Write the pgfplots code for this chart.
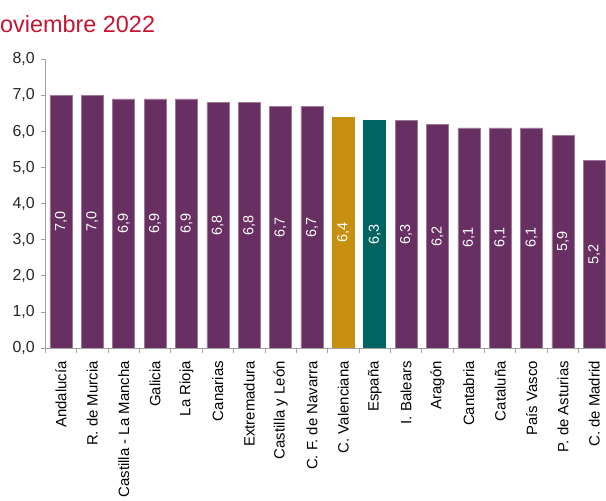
\documentclass[border=0pt]{standalone}
\usepackage{pgfplots}
\pgfplotsset{compat=1.18}
\usepackage{pgfplotstable}
\usepackage{fontspec}
\setmainfont{Liberation Sans}
\definecolor{purp}{RGB}{104,48,98}
\definecolor{goldc}{RGB}{200,144,16}
\definecolor{tealc}{RGB}{0,100,98}
\definecolor{titlered}{RGB}{200,20,50}
\definecolor{axgray}{RGB}{160,160,160}

\pgfplotstableread{
x v
0 7.0
1 7.0
2 6.9
3 6.9
4 6.9
5 6.8
6 6.8
7 6.7
8 6.7
9 6.4
10 6.3
11 6.3
12 6.2
13 6.1
14 6.1
15 6.1
16 5.9
17 5.2
}\alltab

\pgfplotstableread{
x v
0 7.0
1 7.0
2 6.9
3 6.9
4 6.9
5 6.8
6 6.8
7 6.7
8 6.7
11 6.3
12 6.2
13 6.1
14 6.1
15 6.1
16 5.9
17 5.2
}\purptab

\pgfplotstableread{
x v
9 6.4
}\goldtab

\pgfplotstableread{
x v
10 6.3
}\tealtab

\begin{document}
\begin{tikzpicture}[x=1bp,y=1bp]
\useasboundingbox (0,0) rectangle (606,501);
\clip (0,0) rectangle (606,501);
\node[anchor=base west, text=titlered, font=\fontsize{23.5}{27}\selectfont, inner sep=0pt] at (0,468.5) {oviembre 2022};
\begin{axis}[
  at={(45.3bp,153bp)}, anchor=south west,
  scale only axis, width=564.7bp, height=288.7bp,
  xmin=-0.5, xmax=17.5, ymin=0, ymax=8,
  axis x line*=bottom, axis y line*=left,
  axis line style={axgray, line width=0.8bp},
  tick style={axgray, line width=0.8bp},
  tick align=outside,
  major tick length=4bp, minor tick length=5bp,
  ytick={0,1,...,8},
  xtick={0,1,...,17},
  minor xtick={-0.5,0.5,...,17.5},
  every major x tick/.append style={draw=none},
  xticklabels={Andalucía, R. de Murcia, Castilla - La Mancha, Galicia, La Rioja, Canarias, Extremadura, Castilla y León, C. F. de Navarra, C. Valenciana, España, I. Balears, Aragón, Cantabria, Cataluña, País Vasco, P. de Asturias, C. de Madrid},
  xticklabel shift=9bp,
  xticklabel style={rotate=90, anchor=east, inner sep=0pt, font=\fontsize{15}{18}\selectfont, text=black},
  yticklabel style={font=\fontsize{16}{19}\selectfont, text=black!85, xshift=-3bp},
  /pgf/number format/use comma,
  /pgf/number format/fixed,
  /pgf/number format/fixed zerofill,
  /pgf/number format/precision=1,
  /pgf/number format/assume math mode=true,
]
\addplot[ybar, bar width=22bp, bar shift=0pt, fill=purp, draw=purp!65!white, line width=0.5bp] table[x=x, y=v] {\purptab};
\addplot[ybar, bar width=22bp, bar shift=0pt, fill=goldc, draw=goldc, line width=0.5bp] table[x=x, y=v] {\goldtab};
\addplot[ybar, bar width=22bp, bar shift=0pt, fill=tealc, draw=tealc, line width=0.5bp] table[x=x, y=v] {\tealtab};
\addplot[draw=none, mark=none, nodes near coords, point meta=explicit,
  every node near coord/.style={rotate=90, anchor=center, text=white, font=\fontsize{14.5}{17}\selectfont}]
  table[x=x, y expr=\thisrow{v}/2, meta=v] {\alltab};
\end{axis}
\end{tikzpicture}
\end{document}
